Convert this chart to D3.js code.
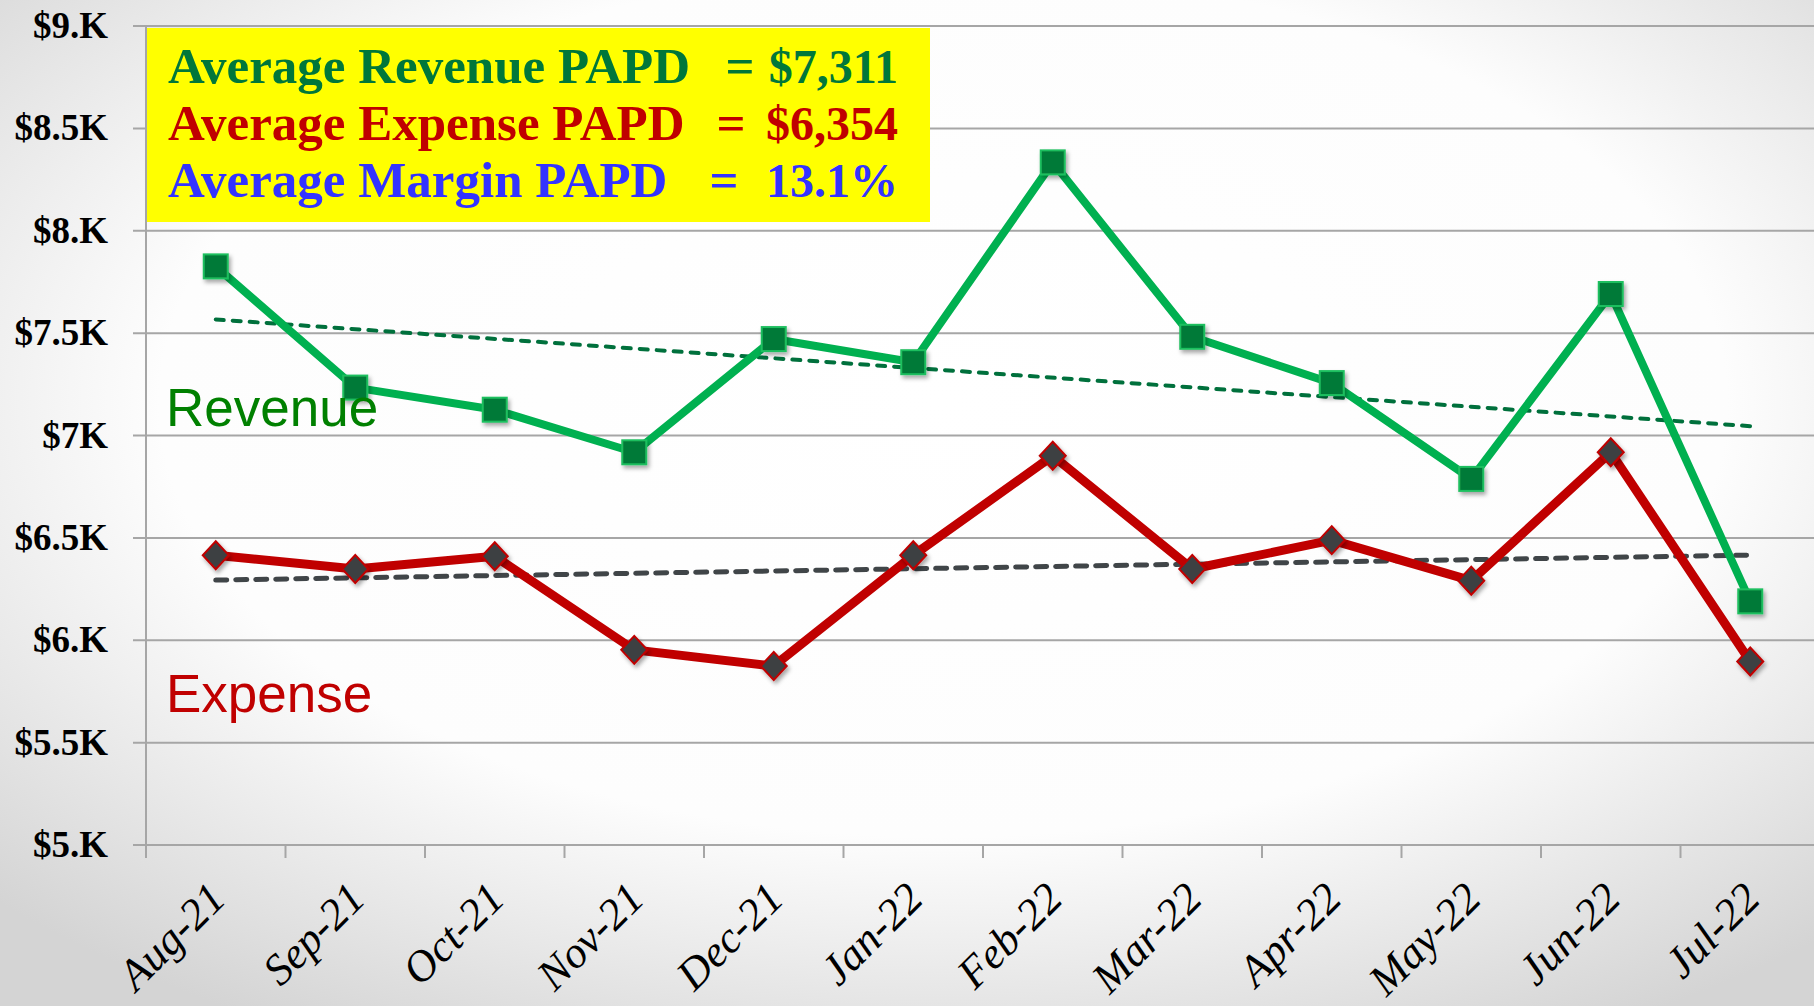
<!DOCTYPE html>
<html lang="en">
<head>
    <meta charset="UTF-8">
    <title>Revenue and Expense PAPD</title>
    <script src="https://d3js.org/d3.v7.min.js"></script>
    <style>
        html, body { margin: 0; padding: 0; overflow: hidden; }
        svg { display: block; }
        .ytick { font-family: "Liberation Serif", serif; font-weight: bold; font-size: 37px; fill: #000; }
        .xtick { font-family: "Liberation Serif", serif; font-style: italic; font-size: 44px; fill: #000; }
        .summary { font-family: "Liberation Serif", serif; font-weight: bold; font-size: 51px; }
        .summary.value { font-size: 48px; }
        .series-label { font-family: "Liberation Sans", Arial, sans-serif; font-size: 53px; }
    </style>
</head>
<body>
<div id="chart"></div>
<script>
    // Данные
    const categories = ["Aug-21", "Sep-21", "Oct-21", "Nov-21", "Dec-21", "Jan-22",
                        "Feb-22", "Mar-22", "Apr-22", "May-22", "Jun-22", "Jul-22"];
    const revenue = [7826, 7234, 7126, 6918, 7471, 7358, 8334, 7482, 7256, 6788, 7691, 6190];
    const expense = [6415, 6348, 6410, 5953, 5874, 6415, 6901, 6348, 6489, 6291, 6918, 5896];
    const yTicks = [5000, 5500, 6000, 6500, 7000, 7500, 8000, 8500, 9000];
    const yTickLabels = ["$5.K", "$5.5K", "$6.K", "$6.5K", "$7K", "$7.5K", "$8.K", "$8.5K", "$9.K"];
    const summaryLabels = ["Average Revenue PAPD", "Average Expense PAPD", "Average Margin PAPD"];
    const summaryValues = ["$7,311", "$6,354", "13.1%"];

    const width = 1814;
    const height = 1006;

    const svg = d3.select("#chart").append("svg")
        .attr("width", width)
        .attr("height", height);

    const defs = svg.append("defs");
    const bg = defs.append("radialGradient")
        .attr("id", "bg")
        .attr("cx", "52%").attr("cy", "40%").attr("r", "72%");
    bg.append("stop").attr("offset", "0").attr("stop-color", "#ffffff");
    bg.append("stop").attr("offset", "0.6").attr("stop-color", "#fdfdfd");
    bg.append("stop").attr("offset", "1").attr("stop-color", "#d4d4d4");

    const shadow = defs.append("filter").attr("id", "shadow")
        .attr("x", "-50%").attr("y", "-50%").attr("width", "200%").attr("height", "200%");
    shadow.append("feDropShadow")
        .attr("dx", 2).attr("dy", 3).attr("stdDeviation", 2)
        .attr("flood-color", "#000").attr("flood-opacity", 0.35);

    svg.append("rect").attr("width", width).attr("height", height).attr("fill", "url(#bg)");

    // Шкалы
    const x = d3.scaleBand().domain(categories).range([146, 146 + 12 * 139.5]);
    const y = d3.scaleLinear().domain([5000, 9000]).range([845, 26]);
    const cx = d => x(d) + x.bandwidth() / 2;

    // Сетка
    svg.append("g")
        .selectAll("line")
        .data(yTicks)
        .join("line")
        .attr("x1", 133).attr("x2", width)
        .attr("y1", d => y(d)).attr("y2", d => y(d))
        .attr("stroke", "#a6a6a6").attr("stroke-width", 2);

    // Оси
    svg.append("line")
        .attr("x1", 146).attr("x2", 146)
        .attr("y1", y(9000)).attr("y2", y(5000) + 13)
        .attr("stroke", "#a6a6a6").attr("stroke-width", 2);

    svg.append("g")
        .selectAll("line")
        .data(categories)
        .join("line")
        .attr("x1", d => x(d) + x.bandwidth())
        .attr("x2", d => x(d) + x.bandwidth())
        .attr("y1", y(5000)).attr("y2", y(5000) + 13)
        .attr("stroke", "#a6a6a6").attr("stroke-width", 2);

    svg.append("g")
        .selectAll("text")
        .data(yTicks)
        .join("text")
        .attr("class", "ytick")
        .attr("x", 108)
        .attr("y", d => y(d) + 12)
        .attr("text-anchor", "end")
        .text((d, i) => yTickLabels[i]);

    svg.append("g")
        .selectAll("text")
        .data(categories)
        .join("text")
        .attr("class", "xtick")
        .attr("text-anchor", "end")
        .attr("transform", d => `translate(${cx(d) + 12},${y(5000) + 56}) rotate(-45)`)
        .text(d => d);

    // Линии тренда
    function trend(values) {
        const n = values.length;
        const mx = (n - 1) / 2;
        const my = d3.mean(values);
        let sxy = 0, sxx = 0;
        values.forEach((v, i) => { sxy += (i - mx) * (v - my); sxx += (i - mx) * (i - mx); });
        const slope = sxy / sxx;
        return [my - slope * mx, my + slope * (n - 1 - mx)];
    }
    const revTrend = trend(revenue);
    const expTrend = trend(expense);
    const first = categories[0], last = categories[categories.length - 1];

    svg.append("line")
        .attr("x1", cx(first)).attr("y1", y(revTrend[0]))
        .attr("x2", cx(last)).attr("y2", y(revTrend[1]))
        .attr("stroke", "#00703c").attr("stroke-width", 4)
        .attr("stroke-dasharray", "8,9").attr("stroke-linecap", "round");

    svg.append("line")
        .attr("x1", cx(first)).attr("y1", y(expTrend[0]))
        .attr("x2", cx(last)).attr("y2", y(expTrend[1]))
        .attr("stroke", "#404548").attr("stroke-width", 5)
        .attr("stroke-dasharray", "11,9").attr("stroke-linecap", "round");

    // Серии
    const line = d3.line()
        .x((d, i) => cx(categories[i]))
        .y(d => y(d));

    svg.append("path")
        .datum(revenue)
        .attr("d", line)
        .attr("fill", "none")
        .attr("stroke", "#00b050").attr("stroke-width", 8)
        .attr("stroke-linejoin", "round");

    svg.append("path")
        .datum(expense)
        .attr("d", line)
        .attr("fill", "none")
        .attr("stroke", "#c00000").attr("stroke-width", 9)
        .attr("stroke-linejoin", "round");

    const sq = 24;
    svg.append("g")
        .selectAll("rect")
        .data(revenue)
        .join("rect")
        .attr("x", (d, i) => cx(categories[i]) - sq / 2)
        .attr("y", d => y(d) - sq / 2)
        .attr("width", sq).attr("height", sq)
        .attr("fill", "#007a37")
        .attr("stroke", "#1fbf5f").attr("stroke-width", 2)
        .attr("filter", "url(#shadow)");

    const dm = 13;
    svg.append("g")
        .selectAll("path")
        .data(expense)
        .join("path")
        .attr("d", (d, i) => {
            const px = cx(categories[i]), py = y(d);
            return `M${px},${py - dm - 1}L${px + dm},${py}L${px},${py + dm + 1}L${px - dm},${py}Z`;
        })
        .attr("fill", "#3d4043")
        .attr("stroke", "#c00000").attr("stroke-width", 2)
        .attr("filter", "url(#shadow)");

    // Подписи серий
    svg.append("text")
        .attr("class", "series-label")
        .attr("x", 166).attr("y", 426)
        .attr("fill", "#008000")
        .text("Revenue");

    svg.append("text")
        .attr("class", "series-label")
        .attr("x", 166).attr("y", 712)
        .attr("fill", "#c00000")
        .text("Expense");

    // Жёлтая плашка
    svg.append("rect")
        .attr("x", 147).attr("y", 28)
        .attr("width", 783).attr("height", 194)
        .attr("fill", "#ffff00");

    const summaryColors = ["#00773a", "#c00000", "#3333ff"];
    const eqX = [740, 731, 724];
    const box = svg.append("g");
    summaryLabels.forEach((label, i) => {
        const by = 83 + i * 57;
        box.append("text").attr("class", "summary")
            .attr("x", 168).attr("y", by).attr("fill", summaryColors[i]).text(label);
        box.append("text").attr("class", "summary")
            .attr("x", eqX[i]).attr("y", by).attr("text-anchor", "middle")
            .attr("fill", summaryColors[i]).text("=");
        box.append("text").attr("class", "summary value")
            .attr("x", 898).attr("y", by).attr("text-anchor", "end")
            .attr("fill", summaryColors[i]).text(summaryValues[i]);
    });
</script>
</body>
</html>
